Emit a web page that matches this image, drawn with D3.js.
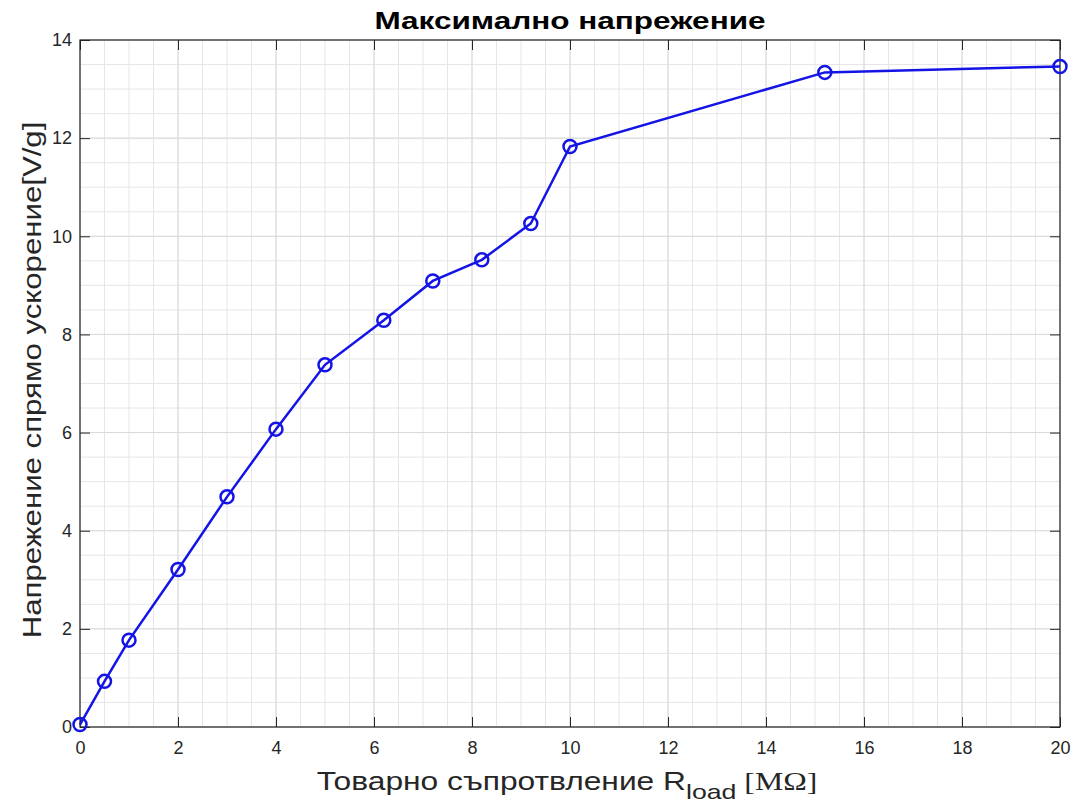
<!DOCTYPE html>
<html>
<head>
<meta charset="utf-8">
<script src="https://cdn.jsdelivr.net/npm/d3@7"></script>
<style>
  body { margin: 0; background: #fff; }
  text { font-family: "Liberation Sans", Arial, sans-serif; }
</style>
</head>
<body>
<div id="chart"></div>
<script>
// measured points: load resistance [MOhm] vs voltage per g [V/g]
const rload = [0, 0.5, 1, 2, 3, 4, 5, 6.2, 7.2, 8.2, 9.2, 10, 15.2, 20]
const voltage = [0.05, 0.93, 1.77, 3.21, 4.69, 6.07, 7.38, 8.29, 9.09, 9.52, 10.26, 11.83, 13.34, 13.46]
const xTicks = [0, 2, 4, 6, 8, 10, 12, 14, 16, 18, 20]
const yTicks = [0, 2, 4, 6, 8, 10, 12, 14]

const data = rload.map((r, i) => ({ r, v: voltage[i] }))

const W = 1074, H = 811
const margin = { top: 40, right: 14, bottom: 84, left: 80 }
const width = W - margin.left - margin.right
const height = H - margin.top - margin.bottom

const svg = d3.select('#chart').append('svg')
  .attr('width', W)
  .attr('height', H)

const g = svg.append('g')
  .attr('transform', 'translate(' + margin.left + ',' + margin.top + ')')

const x = d3.scaleLinear().domain([0, 20]).range([0, width])
const y = d3.scaleLinear().domain([0, 14]).range([height, 0])

// minor grid every 0.5
const minorX = d3.range(0, 20.01, 0.5)
const minorY = d3.range(0, 14.01, 0.5)
g.append('g').selectAll('line').data(minorX).join('line')
  .attr('x1', d => x(d)).attr('x2', d => x(d))
  .attr('y1', 0).attr('y2', height)
  .attr('stroke', '#e6e6e6').attr('stroke-width', 1)
g.append('g').selectAll('line').data(minorY).join('line')
  .attr('y1', d => y(d)).attr('y2', d => y(d))
  .attr('x1', 0).attr('x2', width)
  .attr('stroke', '#e6e6e6').attr('stroke-width', 1)

// major grid
g.append('g').selectAll('line').data(xTicks).join('line')
  .attr('x1', d => x(d)).attr('x2', d => x(d))
  .attr('y1', 0).attr('y2', height)
  .attr('stroke', '#dadada').attr('stroke-width', 1)
g.append('g').selectAll('line').data(yTicks).join('line')
  .attr('y1', d => y(d)).attr('y2', d => y(d))
  .attr('x1', 0).attr('x2', width)
  .attr('stroke', '#dadada').attr('stroke-width', 1)

// axes
const styleAxis = sel => {
  sel.select('.domain').remove()
  sel.selectAll('line').attr('stroke', '#262626')
  sel.selectAll('text')
    .attr('fill', '#262626')
    .style('font-size', '18px')
}

g.append('g')
  .attr('transform', 'translate(0,' + height + ')')
  .call(d3.axisBottom(x).tickValues(xTicks).tickSize(-10).tickPadding(14).tickFormat(d3.format('d')))
  .call(styleAxis)

g.append('g')
  .call(d3.axisTop(x).tickValues(xTicks).tickSize(-10).tickFormat(''))
  .call(styleAxis)

g.append('g')
  .call(d3.axisLeft(y).tickValues(yTicks).tickSize(-10).tickPadding(8).tickFormat(d3.format('d')))
  .call(styleAxis)

g.append('g')
  .attr('transform', 'translate(' + width + ',0)')
  .call(d3.axisRight(y).tickValues(yTicks).tickSize(-10).tickFormat(''))
  .call(styleAxis)

// box
g.append('rect')
  .attr('width', width)
  .attr('height', height)
  .attr('fill', 'none')
  .attr('stroke', '#262626')
  .attr('stroke-width', 1.2)

// line + markers
const line = d3.line()
  .x(d => x(d.r))
  .y(d => y(d.v))

g.append('path')
  .datum(data)
  .attr('fill', 'none')
  .attr('stroke', '#1414e6')
  .attr('stroke-width', 2.5)
  .attr('d', line)

g.selectAll('circle').data(data).join('circle')
  .attr('cx', d => x(d.r))
  .attr('cy', d => y(d.v))
  .attr('r', 6.5)
  .attr('fill', 'none')
  .attr('stroke', '#1414e6')
  .attr('stroke-width', 2.5)

// title (text in the picture is stretched along its direction)
svg.append('text')
  .attr('transform', 'translate(' + (margin.left + width / 2) + ',29) scale(1.37,1)')
  .attr('text-anchor', 'middle')
  .style('font-size', '23px')
  .style('font-weight', 'bold')
  .attr('fill', '#000')
  .text('Максимално напрежение')

// x label with subscript
const xl = svg.append('text')
  .attr('transform', 'translate(' + (margin.left + width / 2 - 3) + ',790) scale(1.27,1)')
  .attr('text-anchor', 'middle')
  .style('font-size', '25px')
  .attr('fill', '#262626')
xl.append('tspan').text('Товарно съпротвление R')
xl.append('tspan').attr('dy', 9).style('font-size', '21px').text('load')
xl.append('tspan').attr('dy', -9).style('font-family', '"Liberation Serif", serif').text(' [MΩ]')

// y label
svg.append('text')
  .attr('transform', 'translate(41,380) rotate(-90) scale(1.2,1)')
  .attr('text-anchor', 'middle')
  .style('font-size', '26px')
  .attr('fill', '#262626')
  .text('Напрежение спрямо ускорение[V/g]')
</script>
</body>
</html>
